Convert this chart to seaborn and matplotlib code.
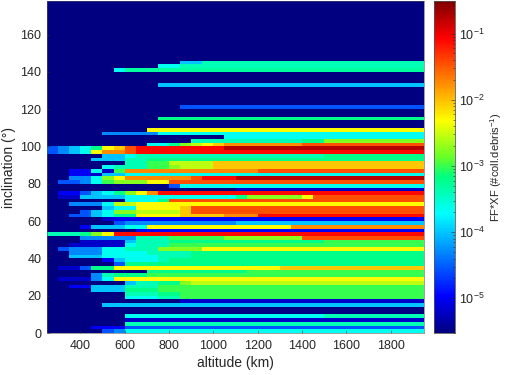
import numpy as np
import pandas as pd
import matplotlib
matplotlib.use("Agg")
import matplotlib.pyplot as plt
import seaborn as sns
from matplotlib.colors import LogNorm, LinearSegmentedColormap

# log10 of the flux for each letter used in the rows below
levels = {
    ".": -5.6, "n": -5.2, "B": -5.0, "b": -4.55, "m": -4.3, "l": -4.0,
    "c": -3.65, "a": -3.4, "A": -3.3, "s": -3.2, "g": -3.0, "h": -2.75, "L": -2.55,
    "y": -2.3, "G": -2.05, "o": -1.75, "O": -1.45, "r": -1.1, "d": -0.75,
}

altitude_km = list(range(250, 1950, 50))
inclination_deg = list(range(176, -2, -2))
x_ticks = [400, 600, 800, 1000, 1200, 1400, 1600, 1800]
y_ticks = [0, 20, 40, 60, 80, 100, 120, 140, 160]

# one string per inclination bin (176 deg at the top), one letter per altitude bin
rows = ["." * 34] * 16 + [
    "." * 12 + "ll" + "a" * 20,
    "." * 10 + "cc" + "a" * 22,
    "." * 6 + "c" + "A" * 27,
    "." * 34, "." * 34, "." * 34,
    "." * 10 + "l" * 24,
    "." * 34, "." * 34, "." * 34, "." * 34, "." * 34,
    "." * 12 + "b" * 22,
    "." * 34, "." * 34,
    "." * 10 + "s" * 24,
    "." * 34, "." * 34,
    "." * 9 + "y" * 25,
    "." * 5 + "m" * 5 + "c" * 24,
    "." * 16 + "c" * 18,
    "." * 13 + "a" * 10 + "ss" + "h" * 9,
    "." * 9 + "ccshLyG" + "o" * 7 + "O" * 11,
    "bmlcsyGO" + "r" * 8 + "d" * 18,
    "bmlcyooO" + "r" * 26,
    "." * 5 + "llc" + "a" * 17 + "s" * 9,
    "." * 4 + "lllaa" + "s" * 25,
    "." * 7 + "aaggLLLL" + "G" * 19,
    "." * 5 + "caaaggh" + "LLL" + "G" * 19,
    "..BBcng" + "o" * 12 + "O" * 15,
    "..BBnll" + "c" * 27,
    "..mmchy" + "o" * 6 + "Orrr" + "d" * 17,
    ".bbmcghhhyy" + "O" * 23,
    "." * 11 + "b" + "c" * 22,
    "." * 17 + "n" * 17,
    ".BBblcshyo" + "r" * 24,
    ".nnllll" + "c" * 10 + "s" + "h" * 5 + "y" + "O" * 10,
    "." * 7 + "cccs" + "O" * 23,
    "..mmmcLL" + "y" * 26,
    "." * 5 + "lcc" + "yyyyG" + "O" * 21,
    "...blchhLLLLG" + "O" * 21,
    "..bblcss" + "yyyyGGGGooo" + "r" * 15,
    "." * 5 + "n" + "B" * 28,
    "." * 6 + "b" + "m" * 10 + "l" * 17,
    "...Blllcc" + "y" * 13 + "o" * 12,
    "." * 8 + "B" * 26,
    "aaashy" + "r" * 28,
    "...mmmmmaaa" + "ggggg" + "h" * 7 + "O" * 11,
    "...nnnnlaaa" + "s" * 14 + "g" * 9,
    "..nnnnncaaa" + "g" * 23,
    ".bmmmccaaahhhh" + "y" * 20,
    "..mmmccccaaaa" + "s" * 21,
    "..lllcccccaaa" + "s" * 21,
    ".....Blccca" + "s" * 23,
    "." * 6 + "b" + "s" * 27,
    ".nnbss" + "y" * 15 + "G" * 13,
    "." * 9 + "s" * 9 + "g" * 16,
    "....masss" + "g" * 25,
    ".nnnmc" + "y" * 28,
    "." * 7 + "laassh" + "L" * 21,
    "..BBlllaaa" + "g" * 24,
    "....lllsss" + "g" * 24,
    "." * 7 + "aaass" + "g" * 22,
    "." * 7 + "cccaa" + "g" * 22,
    "." * 12 + "n" * 22,
    "." * 5 + "l" * 29,
    "." * 34, "." * 34,
    "." * 7 + "c" * 18 + "a" * 9,
    "." * 7 + "n" * 27,
    "." * 7 + "a" * 27,
    "....BBB" + "b" * 27,
    "....." + "bm" + "c" * 27,
]

flux = np.array([[10.0 ** levels[ch] for ch in r] for r in rows])
df = pd.DataFrame(flux, index=inclination_deg, columns=altitude_km)

# jet-like map, the green part is more saturated than plain jet
cmap = LinearSegmentedColormap.from_list("jetish", [
    (0.0, (0, 0, 0.5)), (0.11, (0, 0, 1)), (0.36, (0, 1, 1)),
    (0.47, (0, 1, 0.5)), (0.53, (0.4, 1, 0.15)), (0.64, (1, 1, 0)),
    (0.89, (1, 0, 0)), (1.0, (0.5, 0, 0)),
])

plt.rcParams["font.family"] = ["Liberation Sans", "DejaVu Sans"]
plt.rcParams["mathtext.default"] = "regular"
text_col = "#262626"

fig = plt.figure(figsize=(5.05, 3.75), dpi=100)
ax = fig.add_axes([47 / 505, 1 - 333 / 375, 377 / 505, 332 / 375])
cax = fig.add_axes([434 / 505, 1 - 333 / 375, 20.5 / 505, 332 / 375])

sns.heatmap(df, ax=ax, cbar_ax=cax, cmap=cmap, norm=LogNorm(vmin=3e-6, vmax=0.31),
            xticklabels=False, yticklabels=False)
ax.set_ylim(len(rows), 0)

ax.set_xticks([(v - 250) / 50 for v in x_ticks])
ax.set_xticklabels(x_ticks)
ax.set_yticks([(178 - v) / 2 for v in y_ticks])
ax.set_yticklabels(y_ticks, rotation=0)
ax.tick_params(direction="in", length=2, width=0.4, labelsize=9, colors=text_col)
ax.tick_params(axis="x", pad=5)
ax.tick_params(axis="y", pad=4)
ax.set_xlabel("altitude (km)", fontsize=10, color=text_col, labelpad=3)
ax.set_ylabel("inclination (°)", fontsize=10, color=text_col, labelpad=3)
for side in ax.spines:
    ax.spines[side].set_visible(True)
    ax.spines[side].set_linewidth(0.4)
    ax.spines[side].set_color("#555555")

cax.tick_params(which="both", direction="in", width=0.4, labelsize=9, colors=text_col)
cax.tick_params(which="major", length=3, pad=3)
cax.tick_params(which="minor", length=1.5)
cax.set_ylabel("FF*XF (#coll.debris$^{-1}$)", fontsize=8, color=text_col, labelpad=3)
for side in cax.spines:
    cax.spines[side].set_visible(True)
    cax.spines[side].set_linewidth(0.4)
    cax.spines[side].set_color("#555555")

fig.savefig("out.png", dpi=100)
